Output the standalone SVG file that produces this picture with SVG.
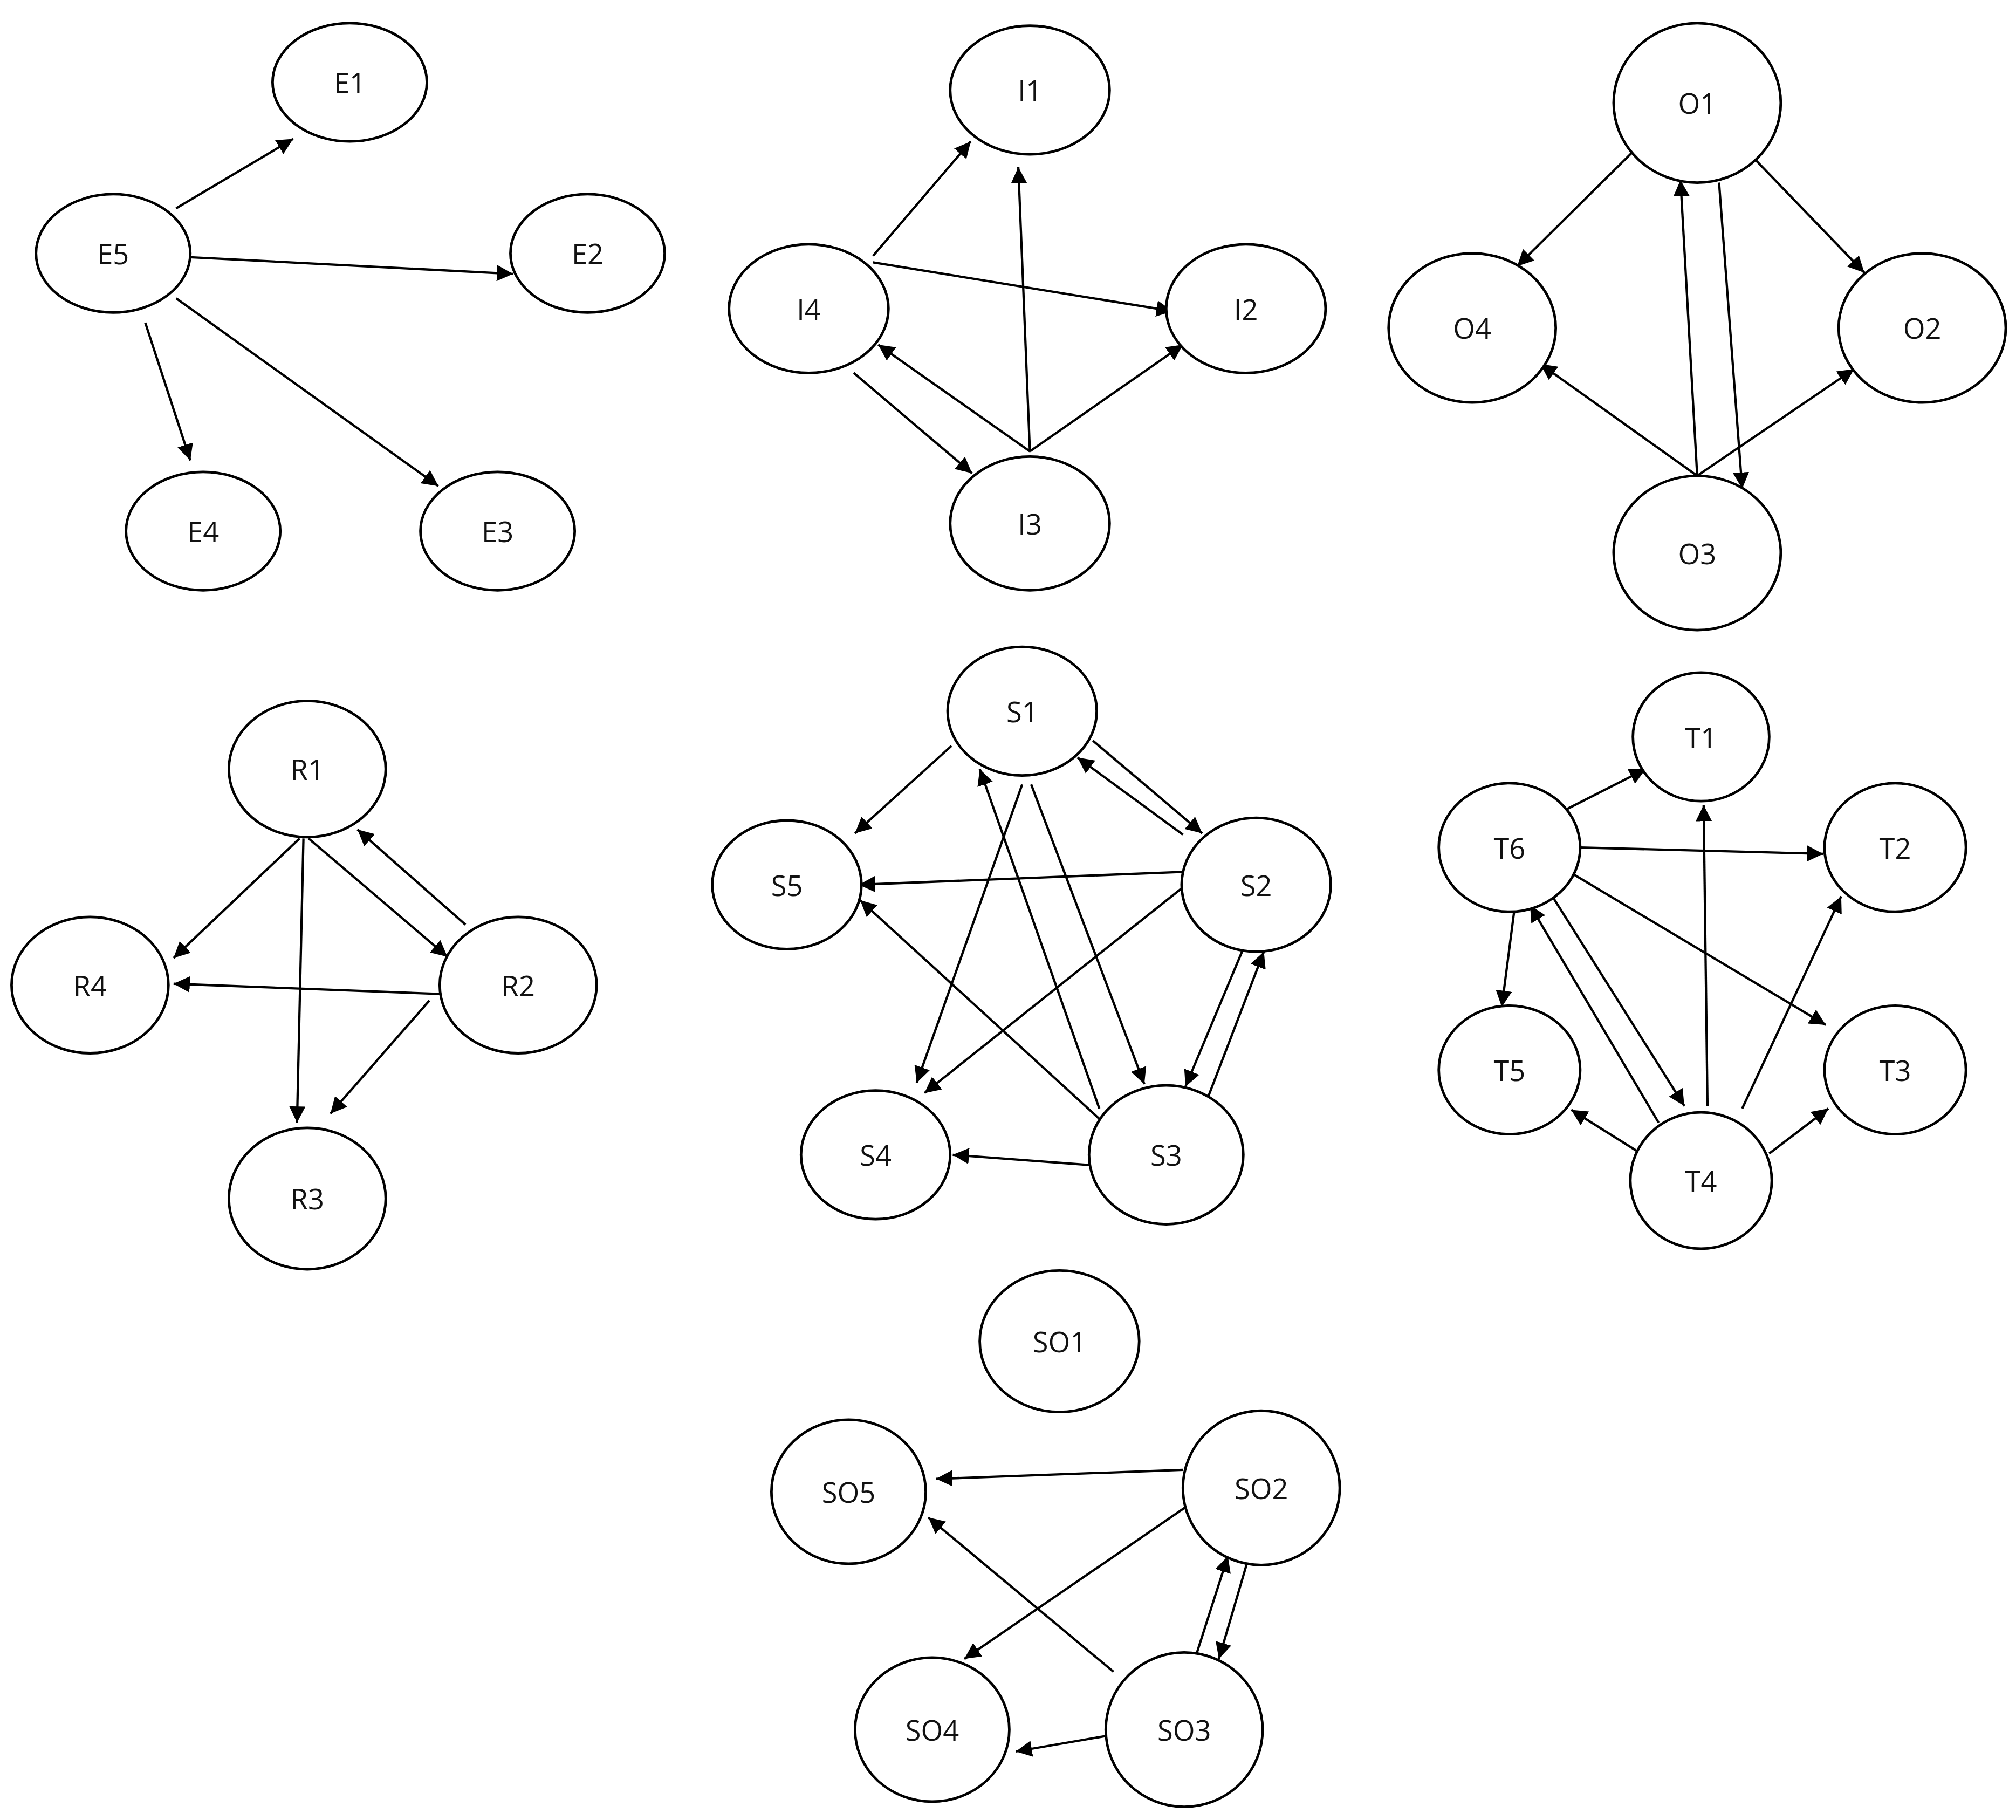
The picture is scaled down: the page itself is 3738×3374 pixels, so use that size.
<svg xmlns="http://www.w3.org/2000/svg" width="3738" height="3374" viewBox="0 0 3738 3374">
<style>
ellipse{fill:#fff;stroke:#000;stroke-width:2}
text{font-family:"Open Sans","Liberation Sans",sans-serif;font-size:22px;text-anchor:middle;dominant-baseline:central;fill:#111}
.c line{stroke:#000;stroke-width:1.8;marker-end:url(#a)}
</style>
<defs><marker id="a" viewBox="0 0 10 10" refX="10" refY="5" markerWidth="7" markerHeight="7" orient="auto" markerUnits="strokeWidth"><path d="M0,0L10,5L0,10z"/></marker></defs>
<rect width="3738" height="3374" fill="#fff"/>
<g transform="scale(2.384)">
<g class="c">
<line x1="137" y1="162" x2="228" y2="108"/>
<line x1="148" y1="200" x2="399" y2="213"/>
<line x1="113" y1="251" x2="148" y2="358"/>
<line x1="137" y1="232" x2="341" y2="378"/>
<line x1="679" y1="199" x2="755" y2="110"/>
<line x1="679" y1="204" x2="912" y2="242"/>
<line x1="801" y1="351" x2="683" y2="268"/>
<line x1="664" y1="290" x2="756" y2="368"/>
<line x1="801" y1="351" x2="792" y2="130"/>
<line x1="801" y1="351" x2="920" y2="268"/>
<line x1="1270" y1="118" x2="1180" y2="207"/>
<line x1="1366" y1="125" x2="1450" y2="212"/>
<line x1="1320" y1="370" x2="1198" y2="283"/>
<line x1="1320" y1="370" x2="1307" y2="140"/>
<line x1="1337" y1="142" x2="1355" y2="380"/>
<line x1="1320" y1="370" x2="1442" y2="287"/>
<line x1="233" y1="652" x2="135" y2="745"/>
<line x1="236" y1="652" x2="231" y2="873"/>
<line x1="240" y1="652" x2="348" y2="744"/>
<line x1="362" y1="719" x2="278" y2="645"/>
<line x1="345" y1="773" x2="135" y2="765"/>
<line x1="334" y1="778" x2="257" y2="866"/>
<line x1="740" y1="580" x2="665" y2="648"/>
<line x1="795" y1="610" x2="713" y2="842"/>
<line x1="802" y1="610" x2="890" y2="843"/>
<line x1="920" y1="649" x2="838" y2="589"/>
<line x1="850" y1="576" x2="935" y2="648"/>
<line x1="920" y1="678" x2="668" y2="688"/>
<line x1="920" y1="690" x2="719" y2="850"/>
<line x1="966" y1="740" x2="922" y2="845"/>
<line x1="940" y1="852" x2="983" y2="740"/>
<line x1="855" y1="862" x2="762" y2="598"/>
<line x1="855" y1="870" x2="669" y2="700"/>
<line x1="848" y1="906" x2="741" y2="898"/>
<line x1="1219" y1="629" x2="1280" y2="598"/>
<line x1="1229" y1="659" x2="1418" y2="664"/>
<line x1="1178" y1="706" x2="1168" y2="783"/>
<line x1="1224" y1="680" x2="1420" y2="797"/>
<line x1="1208" y1="698" x2="1310" y2="860"/>
<line x1="1290" y1="873" x2="1190" y2="704"/>
<line x1="1328" y1="860" x2="1325" y2="626"/>
<line x1="1355" y1="862" x2="1432" y2="697"/>
<line x1="1273" y1="895" x2="1222" y2="863"/>
<line x1="1376" y1="897" x2="1422" y2="862"/>
<line x1="920" y1="1143" x2="728" y2="1150"/>
<line x1="925" y1="1170" x2="750" y2="1290"/>
<line x1="930" y1="1288" x2="955" y2="1210"/>
<line x1="970" y1="1215" x2="948" y2="1290"/>
<line x1="866" y1="1300" x2="722" y2="1180"/>
<line x1="860" y1="1350" x2="790" y2="1362"/>
</g>
<g id="E1"><ellipse cx="272" cy="64" rx="60" ry="46"/><text x="272" y="64">E1</text></g>
<g id="E2"><ellipse cx="457" cy="197" rx="60" ry="46"/><text x="457" y="197">E2</text></g>
<g id="E5"><ellipse cx="88" cy="197" rx="60" ry="46"/><text x="88" y="197">E5</text></g>
<g id="E4"><ellipse cx="158" cy="413" rx="60" ry="46"/><text x="158" y="413">E4</text></g>
<g id="E3"><ellipse cx="387" cy="413" rx="60" ry="46"/><text x="387" y="413">E3</text></g>
<g id="I1"><ellipse cx="801" cy="70" rx="62" ry="50"/><text x="801" y="70">I1</text></g>
<g id="I4"><ellipse cx="629" cy="240" rx="62" ry="50"/><text x="629" y="240">I4</text></g>
<g id="I2"><ellipse cx="969" cy="240" rx="62" ry="50"/><text x="969" y="240">I2</text></g>
<g id="I3"><ellipse cx="801" cy="407" rx="62" ry="52"/><text x="801" y="407">I3</text></g>
<g id="O1"><ellipse cx="1320" cy="80" rx="65" ry="62"/><text x="1320" y="80">O1</text></g>
<g id="O4"><ellipse cx="1145" cy="255" rx="65" ry="58"/><text x="1145" y="255">O4</text></g>
<g id="O2"><ellipse cx="1495" cy="255" rx="65" ry="58"/><text x="1495" y="255">O2</text></g>
<g id="O3"><ellipse cx="1320" cy="430" rx="65" ry="60"/><text x="1320" y="430">O3</text></g>
<g id="R1"><ellipse cx="239" cy="598" rx="61" ry="53"/><text x="239" y="598">R1</text></g>
<g id="R4"><ellipse cx="70" cy="766" rx="61" ry="53"/><text x="70" y="766">R4</text></g>
<g id="R2"><ellipse cx="403" cy="766" rx="61" ry="53"/><text x="403" y="766">R2</text></g>
<g id="R3"><ellipse cx="239" cy="932" rx="61" ry="55"/><text x="239" y="932">R3</text></g>
<g id="S1"><ellipse cx="795" cy="553" rx="58" ry="50"/><text x="795" y="553">S1</text></g>
<g id="S5"><ellipse cx="612" cy="688" rx="58" ry="50"/><text x="612" y="688">S5</text></g>
<g id="S2"><ellipse cx="977" cy="688" rx="58" ry="52"/><text x="977" y="688">S2</text></g>
<g id="S4"><ellipse cx="681" cy="898" rx="58" ry="50"/><text x="681" y="898">S4</text></g>
<g id="S3"><ellipse cx="907" cy="898" rx="60" ry="54"/><text x="907" y="898">S3</text></g>
<g id="T1"><ellipse cx="1323" cy="573" rx="53" ry="50"/><text x="1323" y="573">T1</text></g>
<g id="T6"><ellipse cx="1174" cy="659" rx="55" ry="50"/><text x="1174" y="659">T6</text></g>
<g id="T2"><ellipse cx="1474" cy="659" rx="55" ry="50"/><text x="1474" y="659">T2</text></g>
<g id="T5"><ellipse cx="1174" cy="832" rx="55" ry="50"/><text x="1174" y="832">T5</text></g>
<g id="T3"><ellipse cx="1474" cy="832" rx="55" ry="50"/><text x="1474" y="832">T3</text></g>
<g id="T4"><ellipse cx="1323" cy="918" rx="55" ry="53"/><text x="1323" y="918">T4</text></g>
<g id="SO1"><ellipse cx="824" cy="1043" rx="62" ry="55"/><text x="824" y="1043">SO1</text></g>
<g id="SO5"><ellipse cx="660" cy="1160" rx="60" ry="56"/><text x="660" y="1160">SO5</text></g>
<g id="SO2"><ellipse cx="981" cy="1157" rx="61" ry="60"/><text x="981" y="1157">SO2</text></g>
<g id="SO4"><ellipse cx="725" cy="1345" rx="60" ry="56"/><text x="725" y="1345">SO4</text></g>
<g id="SO3"><ellipse cx="921" cy="1345" rx="61" ry="60"/><text x="921" y="1345">SO3</text></g>
</g>
</svg>
